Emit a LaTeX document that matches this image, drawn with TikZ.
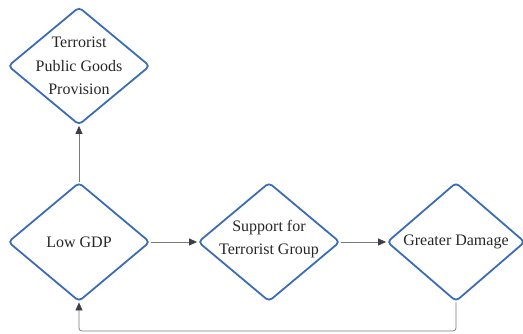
\documentclass[tikz,border=0pt]{standalone}
\usepackage{fontspec}
\setmainfont{Liberation Serif}
\usetikzlibrary{shapes.geometric,arrows.meta}
\definecolor{dblue}{HTML}{3A6DB5}
\definecolor{lgray}{HTML}{7A7A7A}
\definecolor{tipc}{HTML}{3B3F48}
\begin{document}
\begin{tikzpicture}[x=1pt,y=1pt,
  dia/.style={diamond, draw=dblue, line width=1.8pt, rounded corners=4pt, inner sep=0pt,
    minimum width=142pt, minimum height=118pt},
  txt/.style={align=center, text=black!85, inner sep=0pt,
    font=\fontsize{16}{23.5}\selectfont},
  conn/.style={draw=lgray, line width=0.7pt, -{Triangle[length=8pt,width=7pt,color=tipc]}}]
\useasboundingbox (0,0) rectangle (523,334);
\node[dia] (tpg) at (79,268) {};
\node[txt] (tpgt) at (tpg.center) {Terrorist\\Public Goods\\Provision};
\node[dia, minimum height=119pt] (low) at (79,92) {};
\node[txt] (lowt) at (low.center) {Low GDP};
\node[dia, minimum height=119pt] (sup) at (269,92) {};
\node[txt] (supt) at ([yshift=3pt]sup.center) {Support for\\Terrorist Group};
\node[dia, minimum width=138pt, minimum height=119pt] (dmg) at (456,92) {};
\node[txt] (dmgt) at (dmg.center) {Greater Damage};
\coordinate (fb) at (0,3);
\draw[conn] (low.north) -- (tpg.south);
\draw[conn] (low.east) -- (sup.west);
\draw[conn] (sup.east) -- (dmg.west);
\draw[conn, rounded corners=3pt] (dmg.south) |- (fb -| low.south) -- (low.south);
\end{tikzpicture}
\end{document}
